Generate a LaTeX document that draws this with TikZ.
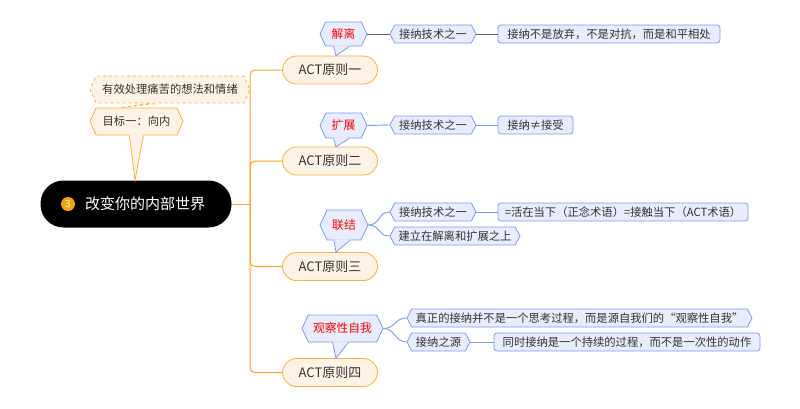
\documentclass[tikz,border=0pt]{standalone}
\usepackage{fontspec}
\setmainfont{Noto Sans CJK SC}
\usetikzlibrary{shapes.symbols,shapes.misc}
\definecolor{bb}{HTML}{7B9AF2}
\definecolor{bf}{HTML}{E8ECFC}
\definecolor{ob}{HTML}{F6B23B}
\definecolor{of}{HTML}{FDF2E6}
\definecolor{tr}{HTML}{F5A623}
\definecolor{gl}{HTML}{666666}
\definecolor{numc}{HTML}{F5A300}
\definecolor{tx}{HTML}{333333}
\begin{document}
\begin{tikzpicture}[x=1pt,y=-1pt,
  hexb/.style={signal, signal to=west and east, signal pointer angle=125, draw=bb, fill=bf, line width=0.8pt, inner sep=0pt, minimum height=18pt, font=\fontsize{11.3}{12}\selectfont, text=tx},
  leafb/.style={rectangle, rounded corners=3pt, draw=bb, fill=bf, line width=0.8pt, inner sep=0pt, minimum height=18pt, font=\fontsize{11.3}{12}\selectfont, text=tx},
  callb/.style={hexb, signal pointer angle=130, font=\fontsize{11.8}{13}\selectfont, text=red},
  actn/.style={rectangle, rounded corners=14pt, draw=ob, fill=of, line width=0.8pt, minimum width=95pt, minimum height=28pt, inner sep=0pt, font=\fontsize{13}{15}\selectfont, text=tx},
  hexo/.style={signal, signal to=west and east, signal pointer angle=132, draw=ob, fill=of, line width=0.8pt, inner sep=0pt, minimum height=27pt, font=\fontsize{11.3}{12}\selectfont, text=tx},
  trunk/.style={draw=tr, line width=1pt},
  lnb/.style={draw=bb, line width=0.9pt},
  lng/.style={draw=gl, line width=0.9pt}]
\useasboundingbox (0,0) rectangle (800,408);

% root
\node[rectangle, rounded corners=23pt, fill=black, minimum width=191pt, minimum height=47pt, inner sep=0pt] (root) at (136,204) {};
\node[circle, fill=numc, text=white, minimum size=14pt, inner sep=0pt, font=\fontsize{10}{10}\selectfont] (num) at (68,204) {3};
\node[text=white, font=\fontsize{15}{17}\selectfont, inner sep=0pt] (rt) at (145,204) {改变你的内部世界};

% left callouts
\node[hexo, minimum width=93pt] (g1) at (136.5,121.5) {目标一：向内};
\node[hexo, dashed, minimum width=160pt] (g0) at (170,89.5) {有效处理痛苦的想法和情绪};
\coordinate (g1tip) at ([xshift=-1pt]root.north);
\fill[of] ([xshift=-7pt,yshift=1pt]g1.south) -- (g1tip) -- ([xshift=7pt,yshift=1pt]g1.south) -- cycle;
\draw[ob, line width=0.8pt] ([xshift=-7pt]g1.south) -- (g1tip) -- ([xshift=7pt]g1.south);
\coordinate (g0tip) at ([xshift=-16pt]g1.north);
\fill[of] ([xshift=-21pt,yshift=1pt]g0.south) -- (g0tip) -- ([xshift=-13pt,yshift=1pt]g0.south) -- cycle;
\draw[ob, line width=0.8pt, dashed] ([xshift=-21pt]g0.south) -- (g0tip) -- ([xshift=-13pt]g0.south);

% ACT nodes
\node[actn] (a1) at (330,70) {ACT原则一};
\node[actn] (a2) at (330,161) {ACT原则二};
\node[actn] (a3) at (330,266.5) {ACT原则三};
\node[actn] (a4) at (330,372.5) {ACT原则四};

% trunk
\coordinate (tj) at (250,204);
\draw[trunk] (root.east) -- (tj);
\draw[trunk, rounded corners=5pt] (tj) |- (a1.west);
\draw[trunk, rounded corners=5pt] (tj) |- (a2.west);
\draw[trunk, rounded corners=5pt] (tj) |- (a3.west);
\draw[trunk, rounded corners=5pt] (tj) |- (a4.west);

% callouts
\node[callb, minimum width=47pt, minimum height=24pt] (c1) at (343.5,34) {解离};
\node[callb, minimum width=47pt, minimum height=25pt] (c2) at (343.5,125.5) {扩展};
\node[callb, minimum width=48pt, minimum height=30pt] (c3) at (344,225) {联结};
\node[callb, minimum width=81pt, minimum height=27pt] (c4) at (342.5,328.5) {观察性自我};

\foreach \c/\a in {c1/a1,c2/a2,c3/a3,c4/a4}{
  \coordinate (\c tip) at ([xshift=6pt]\a.north);
  \fill[bf] ([xshift=-10pt,yshift=1pt]\c.south) -- (\c tip) -- ([xshift=6pt,yshift=1pt]\c.south) -- cycle;
  \draw[bb, line width=0.8pt] ([xshift=-10pt]\c.south) -- (\c tip) -- ([xshift=6pt]\c.south);
}

% branch 1
\node[hexb, minimum width=86pt] (k1) at (433,34) {接纳技术之一};
\node[leafb, minimum width=222pt] (l1) at (609,34) {接纳不是放弃，不是对抗，而是和平相处};
\draw[lng] (c1.east) -- (k1.west);
\draw[lng] (k1.east) -- (l1.west);

% branch 2
\node[hexb, minimum width=86pt] (k2) at (433,125) {接纳技术之一};
\node[leafb, minimum width=75pt] (l2) at (535.5,125) {接纳≠接受};
\draw[lnb] (c2.east) -- (k2.west);
\draw[lnb] (k2.east) -- (l2.west);

% branch 3
\node[hexb, minimum width=86pt] (k3) at (433,212) {接纳技术之一};
\node[leafb, minimum width=250pt] (l3) at (623,212) {=活在当下（正念术语）=接触当下（ACT术语）};
\node[hexb, minimum width=130pt] (m3) at (455,236) {建立在解离和扩展之上};
\draw[lnb] (c3.east) .. controls +(12,0) and +(-12,0) .. (k3.west);
\draw[lnb] (c3.east) .. controls +(12,0) and +(-12,0) .. (m3.west);
\draw[lnb] (k3.east) -- (l3.west);

% branch 4
\node[hexb, minimum width=345pt] (k4) at (579.5,318) {真正的接纳并不是一个思考过程，而是源自我们的“观察性自我”};
\node[hexb, minimum width=63pt] (m4) at (438.5,342) {接纳之源};
\node[leafb, minimum width=266pt] (l4) at (627,342) {同时接纳是一个持续的过程，而不是一次性的动作};
\draw[lnb] (c4.east) .. controls +(12,0) and +(-12,0) .. (k4.west);
\draw[lnb] (c4.east) .. controls +(12,0) and +(-12,0) .. (m4.west);
\draw[lnb] (m4.east) -- (l4.west);
\end{tikzpicture}
\end{document}
